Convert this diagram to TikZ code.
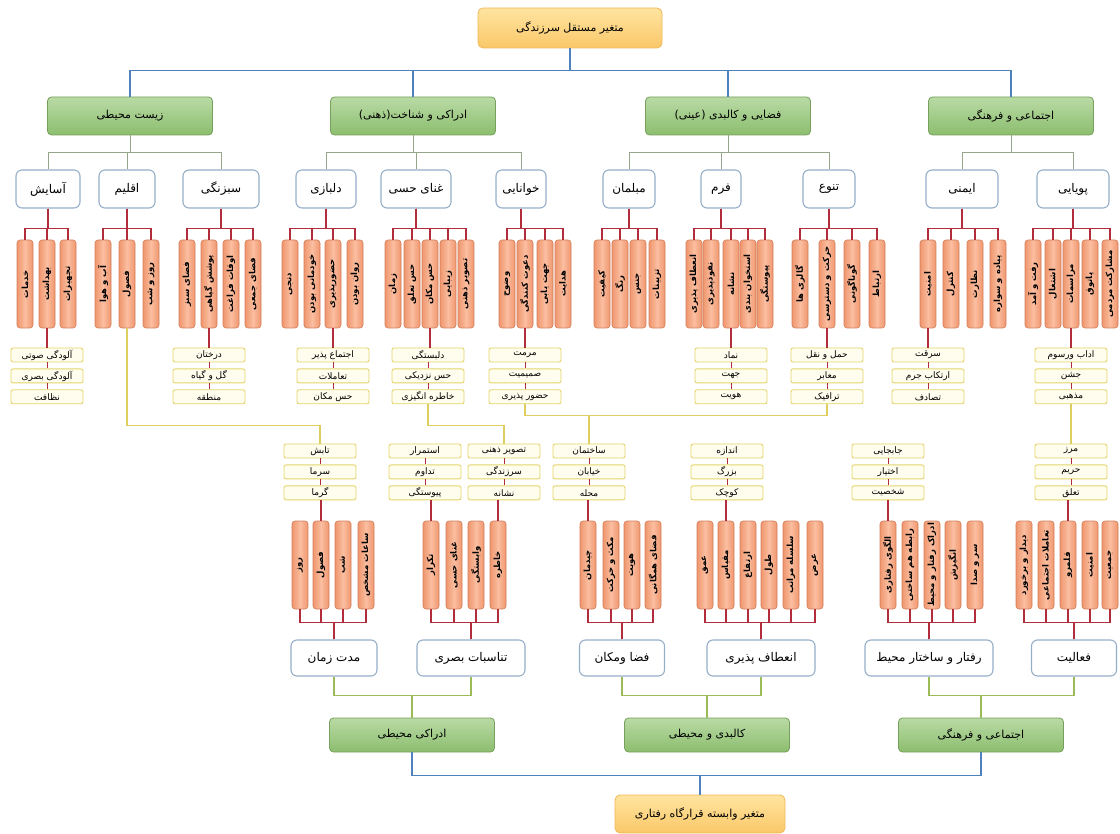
\documentclass[tikz,border=0pt]{standalone}
\usepackage{fontspec}
\usepackage{graphicx}
\usetikzlibrary{positioning}
\newfontfamily\farsi[Script=Arabic]{DejaVu Sans}
\TeXXeTstate=1
\newcommand{\fatext}[1]{{\farsi\beginR #1\endR}}

\definecolor{linkblue}{RGB}{79,129,189}
\definecolor{linkgray}{RGB}{150,165,140}
\definecolor{linkred}{RGB}{178,45,60}
\definecolor{linkyellow}{RGB}{222,205,95}
\definecolor{linkgreen}{RGB}{155,187,89}
\definecolor{roottop}{RGB}{255,228,160}
\definecolor{rootbot}{RGB}{250,200,105}
\definecolor{rootedge}{RGB}{240,185,90}
\definecolor{greentop}{RGB}{185,218,165}
\definecolor{greenbot}{RGB}{140,190,110}
\definecolor{greenedge}{RGB}{118,160,92}
\definecolor{subedge}{RGB}{150,175,200}
\definecolor{colside}{RGB}{240,150,110}
\definecolor{colmid}{RGB}{250,190,160}
\definecolor{coledge}{RGB}{210,125,90}
\definecolor{noteedge}{RGB}{228,212,105}
\definecolor{notefill}{RGB}{255,253,238}

\tikzset{
  rootbox/.style={draw=rootedge, top color=roottop, bottom color=rootbot, rounded corners=5pt,
    minimum width=184pt, minimum height=40pt, line width=0.8pt, font=\fontsize{11pt}{13pt}\selectfont},
  mainbox/.style={draw=greenedge, top color=greentop, bottom color=greenbot, rounded corners=4pt,
    minimum width=165pt, minimum height=38pt, line width=0.8pt, font=\fontsize{11pt}{13pt}\selectfont},
  subbox/.style={draw=subedge, fill=white, rounded corners=6pt, minimum height=38pt,
    line width=1.1pt, inner sep=2pt, font=\fontsize{12pt}{14pt}\selectfont},
  colbox/.style={draw=coledge, left color=colside, right color=colside, middle color=colmid,
    rounded corners=3pt, minimum width=16pt, minimum height=88pt, inner sep=0pt,
    line width=0.6pt, font=\fontsize{8.5pt}{10pt}\selectfont\bfseries},
  notebox/.style={draw=noteedge, fill=notefill, rounded corners=2pt, minimum width=72pt,
    minimum height=14pt, inner sep=0pt, line width=0.9pt, font=\fontsize{9pt}{10pt}\selectfont},
  blueline/.style={draw=linkblue, line width=1.4pt},
  grayline/.style={draw=linkgray, line width=0.9pt},
  redline/.style={draw=linkred, line width=1.1pt},
  yellowline/.style={draw=linkyellow, line width=1.1pt},
  greenline/.style={draw=linkgreen, line width=1.1pt}
}

% columns hanging under a box / standing on a box
\newcommand{\upcols}[2]{%
  \foreach \cx/\lab [count=\i] in {#2} {
    \node[colbox] (#1-\i) at (\cx,284) {\rotatebox{90}{\fatext{\lab}}};
    \draw[redline] (#1.south) -- ++(0,20) -| (#1-\i.north);
  }}
\newcommand{\downcols}[2]{%
  \foreach \cx/\lab [count=\i] in {#2} {
    \node[colbox] (#1-\i) at (\cx,565) {\rotatebox{90}{\fatext{\lab}}};
    \draw[redline] (#1.north) -- ++(0,-17) -| (#1-\i.south);
  }}
\newcommand{\notestack}[6]{%
  \node[notebox] (#1-y1) at (#2,#3) {\fatext{#4}};
  \node[notebox, below=6pt of #1-y1] (#1-y2) {\fatext{#5}};
  \node[notebox, below=6pt of #1-y2] (#1-y3) {\fatext{#6}};
  \draw[redline, line width=0.7pt] (#1-y1) -- (#1-y2) (#1-y2) -- (#1-y3);}

\begin{document}
\begin{tikzpicture}[x=1pt, y=-1pt]
  \useasboundingbox (0,0) rectangle (1120,834);

  \node[rootbox] (root) at (570,28) {\fatext{متغیر مستقل سرزندگی}};
  \node[mainbox] (zist) at (130,116) {\fatext{زیست محیطی}};
  \node[mainbox] (edraki) at (413,116) {\fatext{ادراکی و شناخت(ذهنی)}};
  \node[mainbox] (kalbadi) at (728,116) {\fatext{فضایی و کالبدی (عینی)}};
  \node[mainbox] (ejtemai) at (1011,116) {\fatext{اجتماعی و فرهنگی}};
  \foreach \g in {zist,edraki,kalbadi,ejtemai}
    \draw[blueline] (root.south) -- ++(0,22) -| (\g.north);

  \foreach \n/\cx/\w/\lab in {asayesh/48/64/آسایش, eghlim/127/56/اقلیم, sabz/221/76/سبزنگی,
      delbaz/326/60/دلبازی, ghana/416/70/غنای حسی, khana/521/50/خوانایی,
      moblman/629/52/مبلمان, form/721/40/فرم, tanavo/829/52/تنوع,
      imeni/962/72/ایمنی, pouya/1073/72/پویایی}
    \node[subbox, minimum width=\w pt] (\n) at (\cx,189) {\fatext{\lab}};
  \foreach \g/\s in {zist/asayesh, zist/eghlim, zist/sabz, edraki/delbaz, edraki/ghana,
      edraki/khana, kalbadi/moblman, kalbadi/form, kalbadi/tanavo, ejtemai/imeni, ejtemai/pouya}
    \draw[grayline] (\g.south) -- ++(0,17) -| (\s.north);

  \upcols{asayesh}{25/خدمات, 47/بهداشت, 68/تجهیزات}
  \upcols{eghlim}{103/آب و هوا, 127/فصول, 151/روز و شب}
  \upcols{sabz}{187/فضای سبز, 209/پوشش گیاهی, 231/اوقات فراغت, 253/فضای جمعی}
  \upcols{delbaz}{290/دنجی, 312/خودمانی بودن, 333/حضورپذیری, 355/روان بودن}
  \upcols{ghana}{393/زمان, 412/حس تعلق, 430/حس مکان, 448/زیبایی, 466/تصویر ذهنی}
  \upcols{khana}{507/وضوح, 525/دعوت کنندگی, 545/جهت یابی, 563/هدایت}
  \upcols{moblman}{602/کیفیت, 620/رنگ, 638/جنس, 657/تزیینات}
  \upcols{form}{694/انعطاف پذیری, 711/نفوذپذیری, 731/نشانه, 748/استخوان بندی, 765/پیوستگی}
  \upcols{tanavo}{800/گالری ها, 827/حرکت و دسترسی, 852/گوناگونی, 877/ارتباط}
  \upcols{imeni}{928/امنیت, 951/کنترل, 975/نظارت, 998/پیاده و سواره}
  \upcols{pouya}{1033/رفت و آمد, 1053/اشتغال, 1071/مراسمات, 1090/پاتوق, 1110/مشارکت مردمی}

  \notestack{alayesh}{47}{355}{آلودگی صوتی}{آلودگی بصری}{نظافت}
  \notestack{derakht}{209}{355}{درختان}{گل و گیاه}{منطقه}
  \notestack{ejtema}{333}{355}{اجتماع پذیر}{تعاملات}{حس مکان}
  \notestack{delbast}{428}{355}{دلبستگی}{حس نزدیکی}{خاطره انگیزی}
  \notestack{maremat}{525}{355}{مرمت}{صمیمیت}{حضور پذیری}
  \notestack{namad}{731}{355}{نماد}{جهت}{هویت}
  \notestack{haml}{827}{355}{حمل و نقل}{معابر}{ترافیک}
  \notestack{serghat}{928}{355}{سرقت}{ارتکاب جرم}{تصادف}
  \notestack{adab}{1071}{355}{اداب ورسوم}{جشن}{مذهبی}
  \foreach \c/\s in {asayesh-2/alayesh, sabz-2/derakht, delbaz-3/ejtema, ghana-3/delbast,
      khana-2/maremat, form-3/namad, tanavo-2/haml, imeni-1/serghat, pouya-3/adab}
    \draw[redline] (\c.south) -- (\c.south |- \s-y1.north);

  \notestack{tabesh}{320}{451}{تابش}{سرما}{گرما}
  \notestack{estemrar}{425}{451}{استمرار}{تداوم}{پیوستگی}
  \notestack{tasvir}{504}{451}{تصویر ذهنی}{سرزندگی}{نشانه}
  \notestack{sakhteman}{589}{451}{ساختمان}{خیابان}{محله}
  \notestack{andaze}{727}{451}{اندازه}{بزرگ}{کوچک}
  \notestack{jabejayi}{888}{451}{جابجایی}{اختیار}{شخصیت}
  \notestack{marz}{1071}{451}{مرز}{حریم}{تعلق}

  \draw[yellowline] (eghlim-2.south) -- ++(0,97) -| (tabesh-y1.north);
  \draw[yellowline] (delbast-y3.south) -- ++(0,21) -| (tasvir-y1.north);
  \draw[yellowline] (maremat-y3.south) -- ++(0,11) -| (haml-y3.south);
  \draw[yellowline] (maremat-y3.south) -- ++(0,11) -| (sakhteman-y1.north);
  \draw[yellowline] (adab-y3.south) -- (marz-y1.north);

  \foreach \n/\cx/\w/\lab in {zaman/334/86/مدت زمان, tanasob/471/108/تناسبات بصری,
      faza/622/85/فضا ومکان, enetaf/761/108/انعطاف پذیری,
      raftar/929/128/رفتار و ساختار محیط, faal/1074/85/فعالیت}
    \node[subbox, minimum width=\w pt, minimum height=36pt] (\n) at (\cx,658) {\fatext{\lab}};

  \downcols{zaman}{300/روز, 321/فصول, 343/شب, 366/ساعات مشخص}
  \downcols{tanasob}{431/تکرار, 454/غنای حسی, 476/وابستگی, 498/خاطره}
  \downcols{faza}{588/چیدمان, 611/مکث و حرکت, 632/هویت, 653/فضای همگانی}
  \downcols{enetaf}{705/عمق, 726/مقیاس, 748/ارتفاع, 769/طول, 791/سلسله مراتب, 815/عرض}
  \downcols{raftar}{888/الگوی رفتاری, 910/رابطه هم ساختی, 932/ادراک رفتار و محیط, 953/انگیزش, 975/سر و صدا}
  \downcols{faal}{1024/دیدار و برخورد, 1046/تعاملات اجتماعی, 1068/قلمرو, 1090/امنیت, 1110/جمعیت}
  \foreach \s/\c in {tabesh/zaman-2, estemrar/tanasob-1, tasvir/tanasob-4, sakhteman/faza-1,
      andaze/enetaf-2, jabejayi/raftar-1, marz/faal-3}
    \draw[redline] (\c.north |- \s-y3.south) -- (\c.north);

  \node[mainbox, minimum height=34pt] (edrakmohit) at (412,735) {\fatext{ادراکی محیطی}};
  \node[mainbox, minimum height=34pt] (kalbadmohit) at (707,735) {\fatext{کالبدی و محیطی}};
  \node[mainbox, minimum height=34pt] (ejtfar) at (981,735) {\fatext{اجتماعی و فرهنگی}};
  \foreach \w/\g in {zaman/edrakmohit, tanasob/edrakmohit, faza/kalbadmohit,
      enetaf/kalbadmohit, raftar/ejtfar, faal/ejtfar}
    \draw[greenline] (\w.south) -- ++(0,19) -| (\g.north);

  \node[rootbox, minimum width=170pt, minimum height=38pt] (leaf) at (700,814) {\fatext{متغیر وابسته قرارگاه رفتاری}};
  \foreach \g in {edrakmohit,ejtfar}
    \draw[blueline] (\g.south) -- ++(0,23) -| (leaf.north);
\end{tikzpicture}
\end{document}
